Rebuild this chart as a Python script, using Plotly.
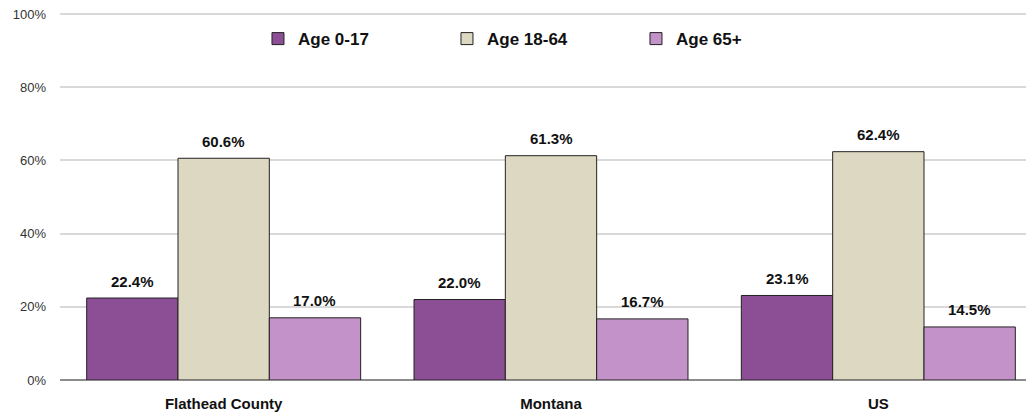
import plotly.graph_objects as go

categories = ["Flathead County", "Montana", "US"]
series_names = ["Age 0-17", "Age 18-64", "Age 65+"]
age_0_17 = [0.224, 0.220, 0.231]
age_18_64 = [0.606, 0.613, 0.624]
age_65_plus = [0.170, 0.167, 0.145]
y_ticks = [0, 0.2, 0.4, 0.6, 0.8, 1.0]
y_tick_labels = ["0%", "20%", "40%", "60%", "80%", "100%"]

colors = ["#8C4F96", "#DDD8C2", "#C292C8"]
values = [age_0_17, age_18_64, age_65_plus]

BOLD = "Liberation Sans, Arial"
BARGAP = 0.163
n_series = len(values)
bar_w = (1 - BARGAP) / n_series

fig = go.Figure()
for name, vals, col in zip(series_names, values, colors):
    fig.add_trace(go.Bar(
        x=categories, y=vals, name=name,
        marker=dict(color=col, line=dict(color="#222222", width=1)),
        cliponaxis=False,
    ))

# data labels placed above each bar
for s, vals in enumerate(values):
    off = (s - (n_series - 1) / 2) * bar_w
    for i, v in enumerate(vals):
        fig.add_annotation(
            x=i + off, y=v, xref="x", yref="y",
            text=f"{v*100:.1f}%", showarrow=False,
            yanchor="middle", yshift=17,
            font=dict(family=BOLD, size=15, color="#111111", weight="bold"),
        )

fig.update_layout(
    width=1034, height=420,
    margin=dict(l=52, r=0, t=5, b=48),
    paper_bgcolor="white", plot_bgcolor="white",
    barmode="group", bargap=BARGAP, bargroupgap=0,
    font=dict(family="Liberation Sans, Arial", color="#333333"),
    legend=dict(
        orientation="h", x=0.2016, y=0.929, xanchor="left", yanchor="middle",
        font=dict(family=BOLD, size=17, color="#111111", weight="bold"),
        entrywidth=144, entrywidthmode="pixels",
        bgcolor="rgba(0,0,0,0)",
    ),
    xaxis=dict(
        range=[-0.5, 2.5], showgrid=False, showline=False, ticks="",
        ticklabelstandoff=13,
        tickfont=dict(family=BOLD, size=15, color="#111111", weight="bold"),
    ),
    yaxis=dict(
        range=[0, 1.003], tickvals=y_ticks, ticktext=y_tick_labels,
        showgrid=True, gridcolor="#D9D9D9", gridwidth=1.5,
        zeroline=True, zerolinecolor="#8C8C8C", zerolinewidth=1.5,
        showline=False, ticks="", ticklabelstandoff=13,
        ticklabeloverflow="allow",
        tickfont=dict(family="Liberation Sans, Arial", size=13, color="#333333"),
    ),
)

fig.write_html("out.html")
